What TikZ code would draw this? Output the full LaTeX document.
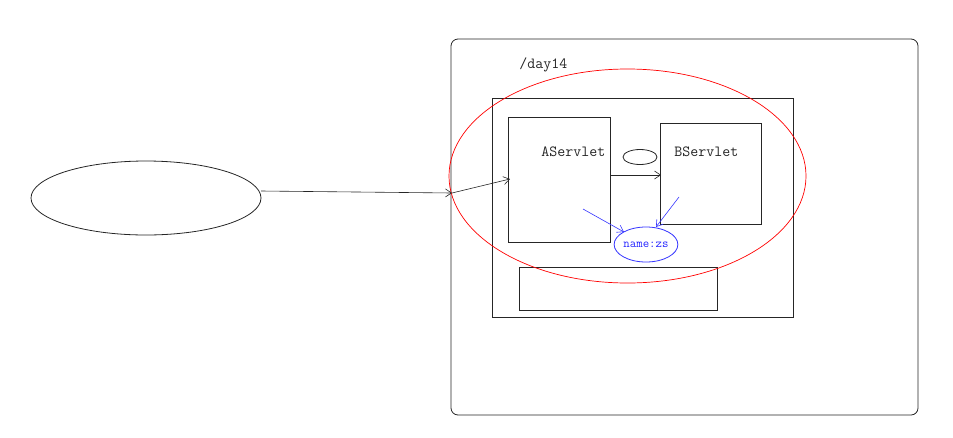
\documentclass[tikz,border=0pt]{standalone}
\usetikzlibrary{arrows.meta,shapes.geometric}
\begin{document}
\begin{tikzpicture}[x=1pt,y=-1pt,
  line width=0.8pt,
  box/.style={draw=black!85,line width=0.8pt},
  arr/.style={-{Straight Barb[length=6pt,width=8pt,line width=0.6pt]},line width=0.6pt},
  lbl/.style={font=\ttfamily\fontsize{15.5}{17}\selectfont,text=black!85,inner sep=0pt}]
\useasboundingbox (0,0) rectangle (953,437);
% outer rounded box
\draw[box,rounded corners=7pt] (451,39) rectangle (918,415);
\node[lbl,anchor=base west] (day) at (519,68) {/day14};
% inner rect
\draw[box] (492,98) rectangle (793,317);
% servlet boxes
\node[box,minimum width=102pt,minimum height=125pt,anchor=north west,inner sep=0pt] (A) at (508,117) {};
\node[box,minimum width=101pt,minimum height=101pt,anchor=north west,inner sep=0pt] (B) at (660,123) {};
\node[lbl,anchor=base west] (At) at (541,156) {AServlet};
\node[lbl,anchor=base west] (Bt) at (674,156) {BServlet};
% small ellipse
\node[draw=black!85,ellipse,minimum width=34pt,minimum height=15pt,inner sep=0pt] (sm) at (640,157) {};
% bottom rect
\node[box,minimum width=198pt,minimum height=43pt,anchor=north west,inner sep=0pt] (bot) at (519,267) {};
% red ellipse
\node[draw=red,line width=0.7pt,ellipse,minimum width=357pt,minimum height=214pt,inner sep=0pt] (red) at (627.5,176) {};
% left ellipse
\node[draw=black!85,ellipse,minimum width=230pt,minimum height=74pt,inner sep=0pt] (client) at (146,198) {};
% blue ellipse
\node[draw=blue!80,ellipse,minimum width=59pt,minimum height=35pt,inner sep=0pt,font=\ttfamily\fontsize{12.5}{13}\selectfont,text=blue!85] (zs) at (646,244.5) {name:zs};
% connectors
\coordinate (c1) at (261,191);
\coordinate (c2) at (452,193);
\coordinate (a1) at (510,179);
\coordinate (a2) at (610,175);
\coordinate (b2) at (661,175);
\draw[arr,black!85] (c1) -- (c2);
\draw[arr,black!85] (c2) -- (a1);
\draw[arr,black!85] (a2) -- (b2);
\coordinate (p1) at (583,209);
\coordinate (p2) at (624,232);
\coordinate (q1) at (679,197);
\coordinate (q2) at (656,227);
\draw[arr,blue!80] (p1) -- (p2);
\draw[arr,blue!80] (q1) -- (q2);
\end{tikzpicture}
\end{document}
